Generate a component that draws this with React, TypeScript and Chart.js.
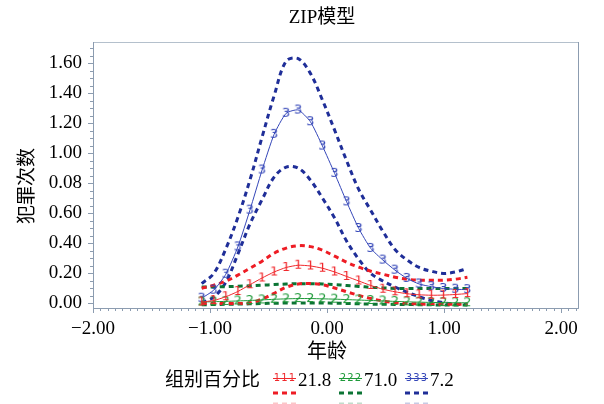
import React, { useEffect, useRef } from 'react';
import { Chart, registerables } from 'chart.js';
Chart.register(...registerables);

// ---- data ----
const ages = [-1.071, -0.968, -0.865, -0.762, -0.659, -0.555, -0.452, -0.349, -0.246, -0.142, -0.039, 0.065, 0.168, 0.271, 0.374, 0.478, 0.581, 0.684, 0.787, 0.891, 0.994, 1.097, 1.2];

const group1Fit = [0.01, 0.02, 0.045, 0.08, 0.125, 0.17, 0.21, 0.24, 0.255, 0.25, 0.235, 0.21, 0.18, 0.15, 0.12, 0.095, 0.078, 0.065, 0.058, 0.055, 0.056, 0.06, 0.066];
const group1Upper = [0.102, 0.122, 0.149, 0.189, 0.235, 0.282, 0.335, 0.369, 0.385, 0.379, 0.355, 0.315, 0.275, 0.242, 0.215, 0.195, 0.175, 0.162, 0.155, 0.155, 0.155, 0.162, 0.175];
const group1Lower = [0.0, 0.0, 0.0, 0.0, 0.005, 0.03, 0.068, 0.108, 0.13, 0.133, 0.125, 0.103, 0.078, 0.054, 0.033, 0.017, 0.006, 0.0, -0.003, -0.005, -0.005, -0.005, -0.005];

const group2Fit = [0.01, 0.012, 0.014, 0.017, 0.02, 0.024, 0.028, 0.031, 0.033, 0.033, 0.031, 0.029, 0.026, 0.023, 0.02, 0.017, 0.014, 0.011, 0.009, 0.007, 0.006, 0.005, 0.005];
const group2Upper = [0.11, 0.11, 0.112, 0.115, 0.118, 0.122, 0.126, 0.13, 0.132, 0.132, 0.13, 0.126, 0.12, 0.114, 0.108, 0.104, 0.1, 0.1, 0.1, 0.1, 0.1, 0.1, 0.1];
const group2Lower = [-0.008, -0.007, -0.005, -0.004, -0.002, 0.0, 0.002, 0.003, 0.004, 0.004, 0.003, 0.002, 0.0, -0.002, -0.004, -0.005, -0.006, -0.007, -0.008, -0.009, -0.01, -0.01, -0.01];

const group3Fit = [0.035, 0.089, 0.195, 0.377, 0.622, 0.889, 1.127, 1.267, 1.289, 1.211, 1.049, 0.867, 0.677, 0.5, 0.367, 0.289, 0.222, 0.167, 0.13, 0.112, 0.1, 0.095, 0.092];
const group3Upper = [0.133, 0.2, 0.364, 0.573, 0.822, 1.109, 1.384, 1.615, 1.631, 1.533, 1.355, 1.155, 0.95, 0.76, 0.62, 0.48, 0.36, 0.29, 0.24, 0.215, 0.2, 0.21, 0.233];
const group3Lower = [0.005, 0.042, 0.142, 0.329, 0.529, 0.692, 0.842, 0.909, 0.902, 0.822, 0.702, 0.569, 0.415, 0.295, 0.2, 0.15, 0.11, 0.075, 0.045, 0.02, 0.005, -0.005, -0.008];

const groupPercents = ['21.8', '71.0', '7.2'];
const groupMarkers = ['1', '2', '3'];
const titleText = 'ZIP模型';
const xTitle = '年龄';
const yTitle = '犯罪次数';
const legendTitle = '组别百分比';

const xTickValues = [-2, -1, 0, 1, 2];
const xTickLabels = ['−2.00', '−1.00', '0.00', '1.00', '2.00'];
const yTickValues = [0, 0.2, 0.4, 0.6, 0.8, 1.0, 1.2, 1.4, 1.6];
const yTickLabels = ['0.00', '0.20', '0.40', '0.60', '0.08', '1.00', '1.20', '1.40', '1.60'];

// ---- styles ----
const solidColors = ['#f0282c', '#1f9a3a', '#3446b8'];
const dashColors = ['#ee1c24', '#0b7434', '#1f2e98'];
const fadedColors = ['rgba(238,28,36,0.25)', 'rgba(11,116,52,0.25)', 'rgba(31,46,152,0.25)'];
const axisColor = '#8c9cb0';
const frameColor = '#b4c0cc';
const SERIF = '"Liberation Serif", "Times New Roman", "Noto Sans CJK SC", serif';

function makeMarker(ch: string, color: string): HTMLCanvasElement {
  const c = document.createElement('canvas');
  c.width = 11;
  c.height = 15;
  const g = c.getContext('2d')!;
  g.fillStyle = color;
  g.font = '13px "DejaVu Sans"';
  g.textAlign = 'center';
  g.textBaseline = 'middle';
  g.fillText(ch, 5.5, 8);
  return c;
}

const decorPlugin = {
  id: 'decor',
  afterDraw(chart: any) {
    const { ctx, chartArea, scales } = chart;
    const xs = scales.x;
    const ys = scales.y;
    ctx.save();
    // frame
    ctx.strokeStyle = frameColor;
    ctx.lineWidth = 1;
    ctx.strokeRect(chartArea.left + 0.5, chartArea.top + 0.5, chartArea.right - chartArea.left, chartArea.bottom - chartArea.top);
    ctx.strokeStyle = axisColor;
    ctx.beginPath();
    ctx.moveTo(chartArea.left + 0.5, chartArea.top);
    ctx.lineTo(chartArea.left + 0.5, chartArea.bottom + 0.5);
    ctx.lineTo(chartArea.right + 0.5, chartArea.bottom + 0.5);
    ctx.lineTo(chartArea.right + 0.5, chartArea.top);
    ctx.stroke();
    // ticks
    ctx.beginPath();
    for (let k = -32; k <= 40; k++) {
      const v = k / 16;
      if (v < xs.min - 1e-9 || v > xs.max + 1e-9) continue;
      const px = Math.round(xs.getPixelForValue(v)) + 0.5;
      const len = k % 16 === 0 ? 5 : 3;
      ctx.moveTo(px, chartArea.bottom);
      ctx.lineTo(px, chartArea.bottom + len);
    }
    for (let k = 0; k <= 40; k++) {
      const v = k * 0.05;
      if (v < ys.min - 1e-9 || v > ys.max + 1e-9) continue;
      const py = Math.round(ys.getPixelForValue(v)) + 0.5;
      const len = k % 4 === 0 ? 5 : 3;
      ctx.moveTo(chartArea.left, py);
      ctx.lineTo(chartArea.left - len, py);
    }
    ctx.stroke();

    // titles
    ctx.fillStyle = '#000';
    ctx.font = '19px ' + SERIF;
    ctx.textAlign = 'center';
    ctx.textBaseline = 'middle';
    ctx.fillText(titleText, 322, 18);
    ctx.font = '20px ' + SERIF;
    ctx.fillText(xTitle, xs.getPixelForValue(0), 353);
    ctx.save();
    ctx.translate(28, 186);
    ctx.rotate(-Math.PI / 2);
    ctx.font = '19px ' + SERIF;
    ctx.fillText(yTitle, 0, 0);
    ctx.restore();

    // legend
    ctx.font = '19px ' + SERIF;
    ctx.textAlign = 'left';
    ctx.fillText(legendTitle, 165, 381);
    const starts = [273, 339, 405];
    for (let i = 0; i < 3; i++) {
      const x0 = starts[i];
      ctx.strokeStyle = solidColors[i];
      ctx.lineWidth = 1;
      ctx.setLineDash([]);
      ctx.beginPath();
      ctx.moveTo(x0, 378.5);
      ctx.lineTo(x0 + 23, 378.5);
      ctx.stroke();
      ctx.fillStyle = solidColors[i];
      ctx.font = '10px "DejaVu Sans"';
      ctx.textAlign = 'center';
      for (let j = 0; j < 3; j++) ctx.fillText(groupMarkers[i], x0 + 4 + j * 7.5, 378);
      ctx.strokeStyle = dashColors[i];
      ctx.lineWidth = 3;
      ctx.setLineDash([5, 4]);
      ctx.beginPath();
      ctx.moveTo(x0, 393);
      ctx.lineTo(x0 + 23, 393);
      ctx.stroke();
      ctx.strokeStyle = fadedColors[i];
      ctx.beginPath();
      ctx.moveTo(x0, 404);
      ctx.lineTo(x0 + 23, 404);
      ctx.stroke();
      ctx.setLineDash([]);
      ctx.fillStyle = '#000';
      ctx.font = '19px ' + SERIF;
      ctx.textAlign = 'left';
      ctx.fillText(groupPercents[i], x0 + 25, 381);
    }
    ctx.restore();
  },
};

export default function App() {
  const ref = useRef<HTMLCanvasElement | null>(null);
  useEffect(() => {
    if (!ref.current) return;
    const fits = [group1Fit, group2Fit, group3Fit];
    const uppers = [group1Upper, group2Upper, group3Upper];
    const lowers = [group1Lower, group2Lower, group3Lower];
    const datasets: any[] = [];
    for (let i = 0; i < 3; i++) {
      const marker = makeMarker(groupMarkers[i], solidColors[i]);
      datasets.push({
        label: 'fit' + groupMarkers[i],
        data: ages.map((a, k) => ({ x: a, y: fits[i][k] })),
        borderColor: solidColors[i],
        borderWidth: 1,
        pointStyle: marker,
        pointRadius: 5,
        tension: 0.2,
        order: 1,
      });
      for (const arr of [uppers[i], lowers[i]]) {
        datasets.push({
          label: 'ci' + groupMarkers[i],
          data: ages.map((a, k) => ({ x: a, y: arr[k] })),
          borderColor: dashColors[i],
          borderWidth: 3,
          borderDash: [5, 4],
          pointRadius: 0,
          tension: 0.35,
          order: 2,
        });
      }
    }
    const chart = new Chart(ref.current, {
      type: 'line',
      data: { datasets },
      plugins: [decorPlugin],
      options: {
        animation: false,
        responsive: false,
        devicePixelRatio: 1,
        layout: { padding: { top: 42, right: 26, left: 0, bottom: 0 } },
        plugins: { legend: { display: false }, title: { display: false }, tooltip: { enabled: false } },
        scales: {
          x: {
            type: 'linear',
            min: -2,
            max: 2.145,
            grid: { display: false },
            border: { display: false },
            afterFit: (s: any) => { s.height = 96; },
            afterBuildTicks: (s: any) => { s.ticks = xTickValues.map((v) => ({ value: v })); },
            ticks: {
              padding: 2,
              color: '#000',
              font: { family: SERIF, size: 19 },
              maxRotation: 0,
              autoSkip: false,
              callback: (v: any) => { const i = xTickValues.indexOf(Number(v)); return i >= 0 ? xTickLabels[i] : ''; },
            },
          },
          y: {
            type: 'linear',
            min: -0.03,
            max: 1.742,
            grid: { display: false },
            border: { display: false },
            afterFit: (s: any) => { s.width = 93; },
            afterBuildTicks: (s: any) => { s.ticks = yTickValues.map((v) => ({ value: v })); },
            ticks: {
              padding: 3,
              color: '#000',
              font: { family: SERIF, size: 19 },
              autoSkip: false,
              callback: (v: any) => {
                const i = yTickValues.findIndex((t) => Math.abs(t - Number(v)) < 1e-6);
                return i >= 0 ? yTickLabels[i] : '';
              },
            },
          },
        },
      } as any,
    });
    return () => chart.destroy();
  }, []);
  return (
    <div style={{ position: 'absolute', left: 0, top: 0, width: 604, height: 404, background: '#fff' }}>
      <canvas ref={ref} width={604} height={404} style={{ width: 604, height: 404, display: 'block' }} />
    </div>
  );
}
